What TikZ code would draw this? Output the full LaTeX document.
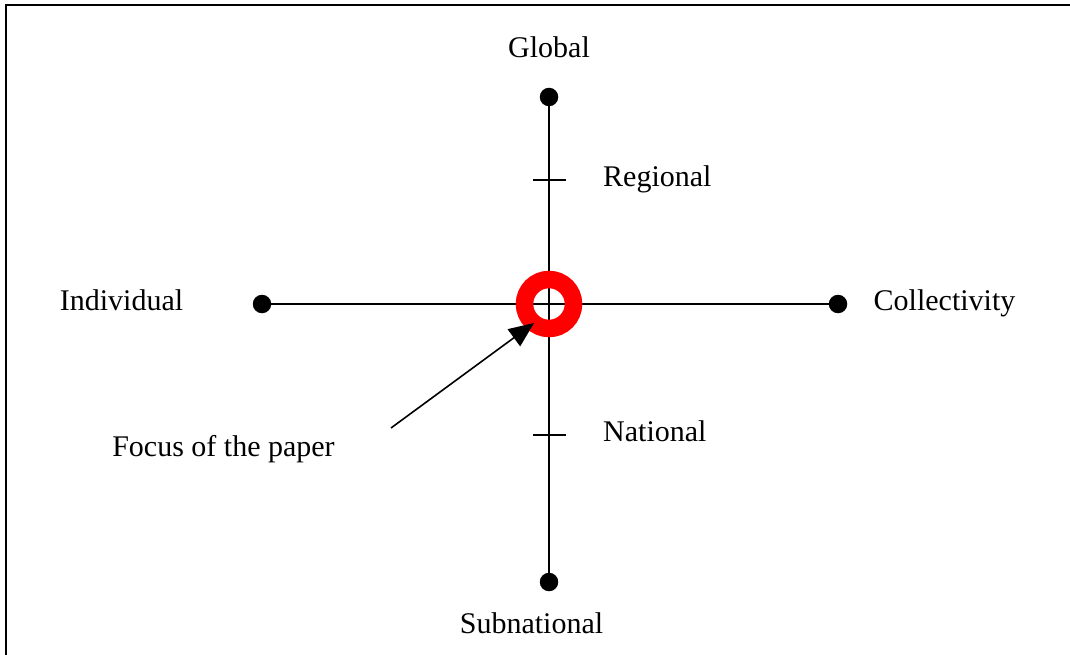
\documentclass[tikz,border=0pt]{standalone}
\usepackage{fontspec}
\setmainfont{Liberation Serif}
\usetikzlibrary{arrows.meta}
\begin{document}
\begin{tikzpicture}[x=1pt,y=-1pt,
  lbl/.style={inner sep=0pt,anchor=base,font=\fontsize{30}{34}\selectfont},
  lbll/.style={lbl,anchor=base west},
  dot/.style={circle,fill=black,inner sep=0pt,minimum size=18.5pt},
  axis/.style={line width=1.6pt},
  ring/.style={circle,draw=red,line width=17.5pt,inner sep=0pt,minimum size=49pt},
  pointer/.style={line width=1.6pt,-{Triangle[length=25pt,width=21pt]}}]
\useasboundingbox (0,0) rectangle (1070,655);
% frame
\draw[line width=2.2pt] (6,655) -- (6,5) -- (1070,5);
% dots
\node[dot] (glob) at (549,97) {};
\node[dot] (sub) at (549,582) {};
\node[dot] (ind) at (262,304) {};
\node[dot] (col) at (838,304) {};
% axes
\draw[axis] (glob) -- (sub);
\draw[axis] (ind) -- (col);
% ticks
\coordinate (rt1) at (533,180); \coordinate (rt2) at (566,180);
\coordinate (nt1) at (533,435); \coordinate (nt2) at (566,435);
\draw[axis] (rt1) -- (rt2);
\draw[axis] (nt1) -- (nt2);
% ring
\node[ring] (focus) at (549,304) {};
% arrow
\coordinate (arrstart) at (391,428);
\coordinate (arrtip) at (534,323);
\draw[pointer] (arrstart) -- (arrtip);
% labels
\node[lbl] (tglob) at (549,58) {Global};
\node[lbll] (treg) at (603,186) {Regional};
\node[lbl] (tind) at (121.5,310) {Individual};
\node[lbl] (tcol) at (944.5,310) {Collectivity};
\node[lbll] (tnat) at (603,441) {National};
\node[lbl] (tfoc) at (223.5,456) {Focus of the paper};
\node[lbl] (tsub) at (531.5,633) {Subnational};
\end{tikzpicture}
\end{document}
